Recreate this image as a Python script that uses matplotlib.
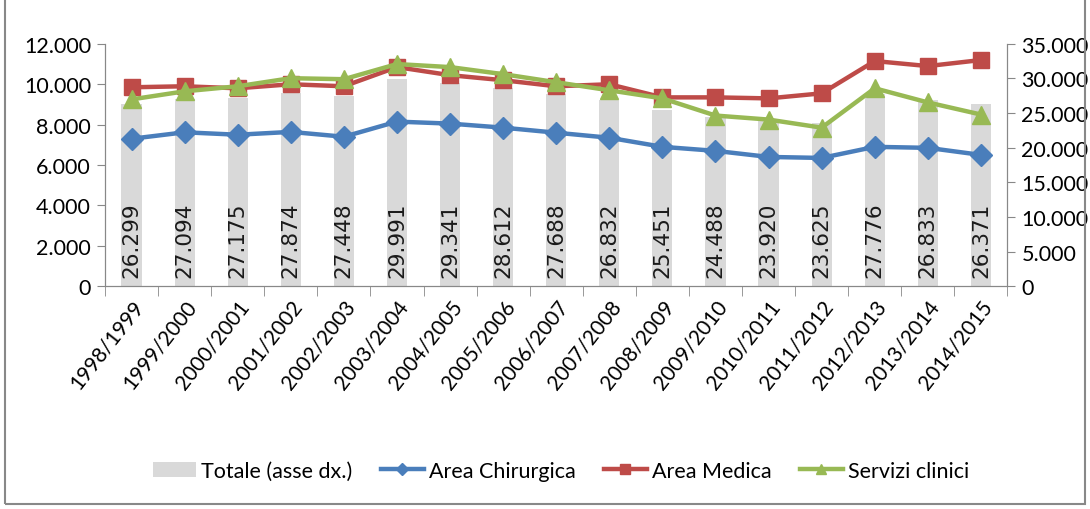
import matplotlib
matplotlib.use("Agg")
import matplotlib.pyplot as plt
from matplotlib.patches import Rectangle

years = ["1998/1999", "1999/2000", "2000/2001", "2001/2002", "2002/2003", "2003/2004",
         "2004/2005", "2005/2006", "2006/2007", "2007/2008", "2008/2009", "2009/2010",
         "2010/2011", "2011/2012", "2012/2013", "2013/2014", "2014/2015"]
totale = [26299, 27094, 27175, 27874, 27448, 29991, 29341, 28612, 27688, 26832,
          25451, 24488, 23920, 23625, 27776, 26833, 26371]
chirurgica = [7300, 7620, 7500, 7640, 7400, 8150, 8050, 7850, 7600, 7350,
              6900, 6700, 6400, 6350, 6900, 6850, 6500]
medica = [9850, 9900, 9800, 10000, 9900, 10850, 10450, 10200, 9900, 10000,
          9350, 9350, 9300, 9550, 11150, 10900, 11200]
servizi = [9250, 9650, 9900, 10300, 10250, 11000, 10850, 10500, 10100, 9700,
           9300, 8450, 8250, 7850, 9800, 9100, 8500]

left_ticks = [0, 2000, 4000, 6000, 8000, 10000, 12000]
right_ticks = [0, 5000, 10000, 15000, 20000, 25000, 30000, 35000]

def fmt(v):
    return f"{v:,}".replace(",", ".")

tick_font = "Lato"

fig = plt.figure(figsize=(10.9, 5.1), dpi=100)
ax = fig.add_axes([0.0963, 0.437, 0.828, 0.475])
ax2 = ax.twinx()
ax.set_zorder(ax2.get_zorder() + 1)
ax.patch.set_visible(False)

x = list(range(len(years)))
ax2.bar(x, totale, width=0.38, color="#D9D9D9", zorder=1, label="Totale (asse dx.)")
for xi, v in zip(x, totale):
    ax2.text(xi, 1300, fmt(v), rotation=90, ha="center", va="bottom", fontsize=15.5,
             family="DejaVu Sans", color="#1a1a1a")
ax2.set_ylim(0, 35000)
ax2.set_yticks(right_ticks)
ax2.set_yticklabels([fmt(t) for t in right_ticks], fontsize=15.5, family=tick_font)

ax.plot(x, chirurgica, color="#4A7EBB", lw=3.2, marker="D", ms=11, label="Area Chirurgica")
ax.plot(x, medica, color="#BE4B48", lw=3.2, marker="s", ms=12, label="Area Medica")
ax.plot(x, servizi, color="#98B954", lw=3.2, marker="^", ms=13, label="Servizi clinici")
ax.set_ylim(0, 12000)
ax.set_xlim(-0.5, len(years) - 0.5)
ax.set_yticks(left_ticks)
ax.set_yticklabels([fmt(t) for t in left_ticks], fontsize=15.5, family=tick_font)
ax.set_xticks(x)
ax.set_xticklabels(years, rotation=52, ha="right", rotation_mode="anchor", fontsize=15,
                   family=tick_font)
ax.tick_params(axis="x", length=0, pad=7)
ax.set_xticks([i - 0.5 for i in range(len(years) + 1)], minor=True)
ax.tick_params(axis="x", which="minor", length=7, color="#888888", direction="out")

for a in (ax, ax2):
    a.spines["top"].set_visible(False)
    for s in ("left", "right", "bottom"):
        a.spines[s].set_color("#888888")
ax.tick_params(axis="y", length=6, color="#888888", pad=4)
ax2.tick_params(axis="y", length=6, color="#888888", pad=4)

h1, l1 = ax2.get_legend_handles_labels()
h2, l2 = ax.get_legend_handles_labels()
fig.legend(h1 + h2, l1 + l2, loc="center", bbox_to_anchor=(0.515, 0.075), ncol=4,
           frameon=False, prop={"family": tick_font, "size": 15.5},
           handlelength=2.0, columnspacing=1.3, handletextpad=0.25, markerscale=0.6)

fig.patches.append(Rectangle((0.005, 0.01), 0.99, 1.2, transform=fig.transFigure,
                             fill=False, edgecolor="#888888", lw=1.5))
fig.savefig("out.png", dpi=100)
